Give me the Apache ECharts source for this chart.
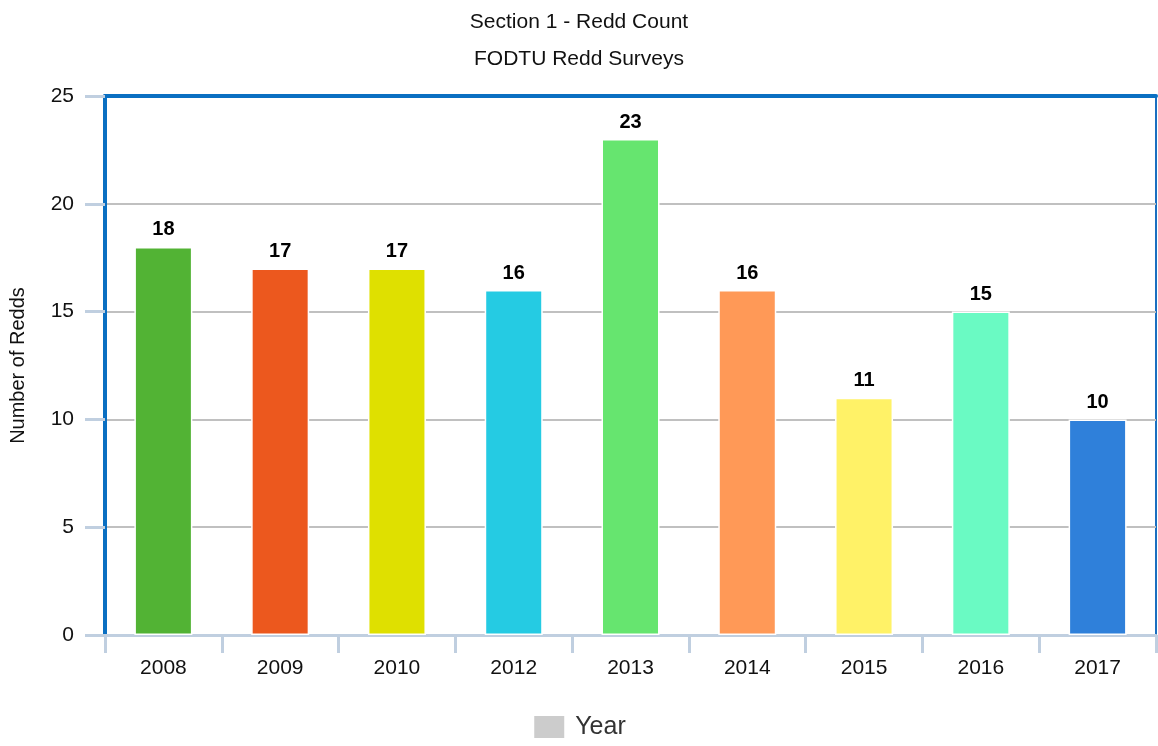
<!DOCTYPE html>
<html>
<head>
<meta charset="utf-8">
<script src="https://cdn.jsdelivr.net/npm/echarts@6/dist/echarts.min.js"></script>
<style>html,body{margin:0;padding:0;background:#fff}#c{width:1158px;height:746px}</style>
</head>
<body>
<div id="c"></div>
<script>
const categories = ['2008','2009','2010','2012','2013','2014','2015','2016','2017'];
const values = [18, 17, 17, 16, 23, 16, 11, 15, 10];
const colors = ['#52b334','#ec581e','#dfe000','#25cbe3','#66e56f','#ff9957','#fff267','#6afac3','#2f80da'];
const yTicks = [0, 5, 10, 15, 20, 25];
const seriesName = 'Year';
const titleText = 'Section 1 - Redd Count';
const subtitleText = 'FODTU Redd Surveys';
const yAxisName = 'Number of Redds';

const chart = echarts.init(document.getElementById('c'));
const font = 'Liberation Sans, Arial, sans-serif';
chart.setOption({
  animation: false,
  textStyle: {fontFamily: font},
  title: [
    {text: titleText, left: 'center', top: 7, textStyle: {fontSize: 21, fontWeight: 'normal', color: '#111', fontFamily: font}},
    {text: subtitleText, left: 'center', top: 44, textStyle: {fontSize: 21, fontWeight: 'normal', color: '#111', fontFamily: font}}
  ],
  legend: {
    top: 709, left: 'center', itemWidth: 32, itemHeight: 24, itemGap: 10, icon: 'rect',
    itemStyle: {color: '#cccccc'},
    textStyle: {fontSize: 25, color: '#333', fontFamily: font, padding: [0, 0, 0, 5]},
    data: [seriesName]
  },
  grid: {left: 104, right: 2, top: 96, bottom: 111, show: true, borderColor: '#1a6fc0', borderWidth: 2, backgroundColor: '#fff'},
  xAxis: [{
    type: 'category', data: categories, position: 'bottom', offset: 3,
    axisLine: {show: true, lineStyle: {color: '#c0cfe0', width: 3}},
    axisTick: {show: true, length: 18, alignWithLabel: false, lineStyle: {color: '#c0cfe0', width: 3}},
    axisLabel: {fontSize: 21, color: '#111', margin: 20, fontFamily: font}
  }, {
    type: 'category', data: categories, position: 'top',
    axisLine: {show: true, lineStyle: {color: '#0a6fc2', width: 4}},
    axisTick: {show: false}, axisLabel: {show: false}
  }],
  yAxis: {
    type: 'value', min: yTicks[0], max: yTicks[yTicks.length - 1], interval: 5,
    name: yAxisName, nameLocation: 'middle', nameGap: 77,
    nameTextStyle: {fontSize: 20, color: '#111', fontFamily: font},
    axisLine: {show: true, lineStyle: {color: '#0a6fc2', width: 4}},
    axisTick: {show: true, length: 20, lineStyle: {color: '#c0cfe0', width: 3}},
    axisLabel: {fontSize: 21, color: '#111', margin: 31, fontFamily: font},
    splitLine: {show: true, lineStyle: {color: '#c0c0c0', width: 2}}
  },
  series: [{
    name: seriesName, type: 'bar', barWidth: 58,
    data: values.map((v, i) => ({value: v, itemStyle: {color: colors[i]}})),
    itemStyle: {borderColor: '#fff', borderWidth: 1.5},
    label: {show: true, position: 'top', distance: 7, fontSize: 20, fontWeight: 'bold', color: '#000', fontFamily: font}
  }]
});
</script>
</body>
</html>
